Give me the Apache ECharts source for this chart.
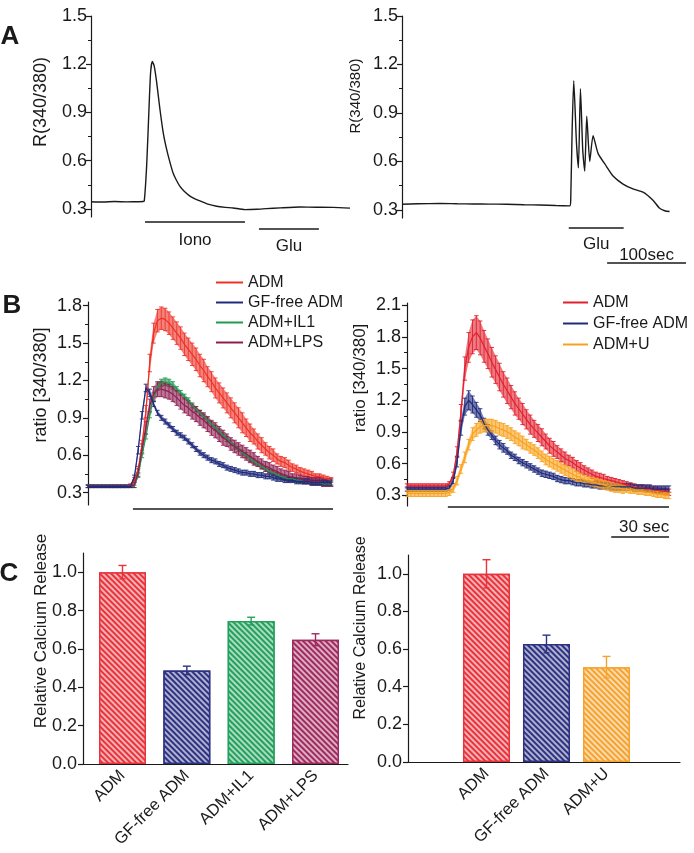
<!DOCTYPE html>
<html><head><meta charset="utf-8">
<script src="https://cdn.jsdelivr.net/npm/echarts@6/dist/echarts.min.js"></script>
<style>html,body{margin:0;padding:0;background:#fff}#c{width:694px;height:853px}</style>
</head><body><div id="c"></div>
<script>
// ---------------- DATA ----------------
// Panel A (single-cell traces), time in s
const tA1 = [0,15,30,45,60,66,67.5,70.5,73.4,75.5,77.6,80,83.1,87.3,91.6,95.8,100,104.2,108,112.7,118,125.3,131,138,148,159,170,180,195,210,222,240,264.6,285,306.7,328];
const vA1 = [0.345,0.343,0.346,0.344,0.345,0.346,0.35,0.57,0.92,1.15,1.217,1.19,1.09,0.92,0.77,0.67,0.59,0.52,0.48,0.44,0.41,0.38,0.365,0.35,0.33,0.317,0.31,0.306,0.296,0.298,0.302,0.307,0.312,0.311,0.31,0.305];
const tA2 = [0,20,48,70,90,110,132.5,155,174.7,195,212.7,213.9,215.6,217.7,221.1,223.6,226.2,229.1,231.6,234.2,238,242.2,248.5,259.1,267.5,280.2,292.8,305.5,318.1,326.6,333,339.2];
const vA2 = [0.335,0.338,0.34,0.338,0.337,0.336,0.335,0.332,0.33,0.327,0.325,0.37,0.78,1.10,0.72,0.56,1.05,0.67,0.54,0.88,0.60,0.76,0.65,0.57,0.51,0.46,0.43,0.41,0.36,0.31,0.295,0.29];
const stimA1 = [{label:'Iono', from:68.4, to:195}, {label:'Glu', from:212.7, to:288.6}];
const stimA2 = [{label:'Glu', from:211.4, to:281}];
const scaleA = {label:'100sec', len:100};
const ticksA = [0.3,0.6,0.9,1.2,1.5];
const minorA = [0.45,0.75,1.05,1.35];

// Panel B left (mean ratio + SEM), time in s
const tB1 = [0,2,4,6,8,10,12,14,16,18,20,22,24,26,28,30,32,34,36,38,40,42,44,46,48,50,52,54,56,58,60,62,64,66,68,70,72,74,76,78,80,82,84,86,88,90,92,94,96,98,100,102,104,106,108,110,112,114,116,118,120,122,124,126];
const adm1 = [0.35,0.35,0.35,0.35,0.35,0.35,0.35,0.35,0.35,0.35,0.35,
  0.36,0.40,0.48,0.68,0.95,1.34,1.58,1.68,1.70,1.69,1.66,1.62,1.58,1.54,1.49,1.45,1.41,1.37,1.32,1.28,1.23,1.19,1.14,1.10,1.06,1.02,0.98,0.94,0.90,0.86,0.82,0.78,0.75,0.71,0.68,0.65,0.62,0.60,0.57,0.55,0.54,0.52,0.50,0.49,0.47,0.46,0.45,0.44,0.43,0.43,0.42,0.41,0.40];
const adm1Err = [0.01,0.01,0.01,0.01,0.01,0.01,0.01,0.01,0.01,0.01,0.01,0.01,
  0.02,0.03,0.04,0.05,0.07,0.08,0.09,0.09,0.09,0.09,0.09,0.09,0.09,0.09,0.09,0.09,0.09,0.09,0.09,
  0.08,0.08,0.08,0.08,0.08,0.08,0.08,0.08,0.08,0.08,
  0.07,0.07,0.06,0.06,0.06,0.05,0.05,0.05,
  0.04,0.04,0.04,0.04,0.03,0.03,0.03,0.03,0.03,0.03,0.02,0.02,0.02,0.02,0.02];
const gf1 = [0.35,0.35,0.35,0.35,0.35,0.35,0.35,0.35,0.35,0.35,0.35,0.35,
  0.42,0.64,0.92,1.14,1.10,1.01,0.94,0.90,0.87,0.84,0.81,0.78,0.76,0.74,0.71,0.68,0.65,0.62,0.60,0.58,0.56,0.55,0.53,0.52,0.50,0.49,0.48,0.47,0.46,0.46,0.45,0.45,0.44,0.44,0.43,0.43,0.42,0.41,0.41,0.40,0.40,0.40,0.39,0.39,0.39,0.39,0.38,0.38,0.38,0.38,0.38,0.38];
const gf1Err = [0.01,0.01,0.01,0.01,0.01,0.01,0.01,0.01,0.01,0.01,0.01,0.01,
  0.02,0.03,0.03,0.03,0.03,
  0.02,0.02,0.02,0.02,0.02,0.02,0.02,0.02,0.02,0.02,0.02,0.02,0.02,0.02,0.02,0.02,0.02,0.02,0.02,0.02,0.02,0.02,0.02,0.02,0.02,0.02,0.02,0.02,0.02,0.02,0.02,0.02,0.02,0.02,0.02,0.02,0.02,0.02,0.02,0.02,0.02,0.02,0.02,0.02,0.02,0.02,0.02];
const il1 = [0.35,0.35,0.35,0.35,0.35,0.35,0.35,0.35,0.35,0.35,0.35,0.35,
  0.35,0.44,0.60,0.75,0.92,1.07,1.15,1.18,1.19,1.18,1.16,1.13,1.10,1.07,1.04,1.00,0.97,0.94,0.91,0.88,0.85,0.82,0.79,0.76,0.73,0.70,0.67,0.65,0.62,0.60,0.57,0.55,0.53,0.51,0.49,0.47,0.46,0.44,0.43,0.42,0.41,0.41,0.40,0.40,0.39,0.39,0.38,0.38,0.38,0.37,0.37,0.37];
const il1Err = [0.01,0.01,0.01,0.01,0.01,0.01,0.01,0.01,0.01,0.01,0.01,0.01,
  0.01,0.02,0.02,0.02,0.02,0.03,0.03,0.03,0.03,0.03,0.03,
  0.02,0.02,0.02,0.02,0.02,0.02,0.02,0.02,0.02,0.02,0.02,0.02,0.02,0.02,0.02,0.02,0.02,0.02,0.02,0.02,0.02,0.02,0.02,0.02,0.02,0.02,0.02,0.02,0.02,0.02,0.02,0.02,0.02,0.02,0.02,0.02,0.02,0.02,0.02,0.02,0.02];
const lps = [0.35,0.35,0.35,0.35,0.35,0.35,0.35,0.35,0.35,0.35,0.35,0.35,
  0.36,0.46,0.65,0.82,1.00,1.09,1.13,1.13,1.12,1.11,1.09,1.06,1.03,1.00,0.98,0.95,0.93,0.90,0.88,0.85,0.82,0.80,0.77,0.74,0.72,0.69,0.67,0.65,0.63,0.61,0.59,0.57,0.55,0.53,0.51,0.50,0.48,0.47,0.45,0.44,0.43,0.42,0.42,0.41,0.40,0.40,0.39,0.39,0.39,0.38,0.38,0.38];
const lpsErr = [0.01,0.01,0.01,0.01,0.01,0.01,0.01,0.01,0.01,0.01,0.01,0.01,
  0.02,0.03,0.04,0.05,0.05,
  0.06,0.06,0.06,0.06,0.06,0.06,0.06,0.06,0.06,0.06,0.06,0.06,0.06,0.06,0.06,0.06,0.06,0.06,0.06,
  0.05,0.05,0.05,0.05,0.05,0.05,0.05,0.05,
  0.04,0.04,0.04,0.04,0.04,0.04,0.04,0.04,0.04,
  0.03,0.03,0.03,0.03,0.03,0.03,0.03,0.03,0.03,0.03,0.03];
const stimB1 = [23.3, 127];
const ticksB1 = [0.3,0.6,0.9,1.2,1.5,1.8];
const minorB1 = [0.45,0.75,1.05,1.35,1.65];

// Panel B right
const tB2 = [0,2,4,6,8,10,12,14,16,18,20,22,24,26,28,30,32,34,36,38,40,42,44,46,48,50,52,54,56,58,60,62,64,66,68,70,72,74,76,78,80,82,84,86,88,90,92,94,96,98,100,102,104,106,108,110,112,114,116,118,120,122,124,126,128,130,132,134,136];
const adm2 = [0.39,0.39,0.39,0.39,0.39,0.39,0.39,0.39,0.39,0.39,0.39,
  0.41,0.49,0.71,1.08,1.50,1.70,1.80,1.84,1.79,1.71,1.64,1.56,1.49,1.42,1.35,1.29,1.23,1.17,1.12,1.07,1.02,0.97,0.93,0.89,0.85,0.81,0.77,0.74,0.71,0.68,0.65,0.63,0.61,0.58,0.56,0.54,0.52,0.50,0.48,0.47,0.46,0.45,0.44,0.43,0.42,0.41,0.40,0.39,0.38,0.37,0.37,0.36,0.36,0.35,0.35,0.34,0.34,0.33];
const adm2Err = [0.02,0.02,0.02,0.02,0.02,0.02,0.02,0.02,0.02,0.02,0.02,
  0.02,0.03,0.05,0.08,0.11,0.14,0.16,0.16,0.16,0.15,
  0.14,0.14,0.13,0.13,0.12,0.12,0.11,0.11,
  0.10,0.10,0.09,0.09,0.08,0.08,0.08,0.07,0.07,0.07,0.06,0.06,
  0.06,0.05,0.05,0.05,0.05,0.04,0.04,0.04,0.04,0.04,0.04,0.03,0.03,0.03,0.03,0.03,0.03,0.03,0.03,0.03,0.03,0.03,0.03,0.03,0.03,0.03,0.03,0.03];
const gf2 = [0.36,0.36,0.36,0.36,0.36,0.36,0.36,0.36,0.36,0.36,0.36,
  0.37,0.44,0.62,0.94,1.14,1.20,1.16,1.11,1.06,0.98,0.92,0.87,0.82,0.78,0.75,0.72,0.68,0.66,0.63,0.61,0.59,0.57,0.55,0.53,0.51,0.50,0.49,0.48,0.46,0.45,0.44,0.44,0.43,0.42,0.42,0.41,0.41,0.40,0.40,0.39,0.39,0.39,0.38,0.38,0.38,0.38,0.38,0.38,0.37,0.37,0.37,0.37,0.37,0.36,0.36,0.36,0.36,0.36];
const gf2Err = [0.02,0.02,0.02,0.02,0.02,0.02,0.02,0.02,0.02,0.02,0.02,
  0.02,0.03,0.05,0.07,0.08,0.09,0.08,0.07,0.06,0.05,
  0.05,0.04,0.04,0.04,0.04,0.03,0.03,0.03,0.03,0.03,0.03,0.03,0.03,0.03,0.03,0.03,0.03,0.03,0.03,0.03,0.03,0.03,0.03,0.03,0.03,0.03,0.03,0.03,0.03,0.03,0.03,0.03,0.03,0.03,0.03,0.03,0.03,0.03,0.03,0.03,0.03,0.03,0.03,0.03,0.03,0.03,0.03,0.03];
const u2 = [0.32,0.32,0.32,0.32,0.32,0.32,0.32,0.32,0.32,0.32,0.32,
  0.33,0.36,0.44,0.55,0.66,0.78,0.88,0.92,0.95,0.96,0.96,0.96,0.95,0.93,0.92,0.90,0.88,0.85,0.83,0.80,0.78,0.75,0.73,0.70,0.67,0.64,0.62,0.60,0.58,0.56,0.54,0.52,0.50,0.48,0.47,0.45,0.44,0.43,0.42,0.41,0.40,0.39,0.38,0.37,0.37,0.36,0.36,0.35,0.35,0.34,0.34,0.33,0.33,0.32,0.31,0.31,0.30,0.30];
const u2Err = [0.03,0.03,0.03,0.03,0.03,0.03,0.03,0.03,0.03,0.03,0.03,
  0.03,0.03,0.04,0.04,0.05,0.05,0.06,0.06,0.06,0.06,
  0.06,0.06,0.06,0.06,0.06,0.06,0.06,0.06,0.06,0.06,
  0.05,0.05,0.05,0.05,0.05,0.05,0.05,0.05,0.05,0.05,0.05,0.05,0.05,0.05,
  0.04,0.04,0.04,0.04,0.04,0.04,0.04,0.04,0.04,0.04,0.04,0.04,
  0.03,0.03,0.03,0.03,0.03,0.03,0.03,0.03,0.03,0.03,0.03,0.03];
const stimB2 = [21.2, 136];
const scaleB = {label:'30 sec', len:30};
const ticksB2 = [0.3,0.6,0.9,1.2,1.5,1.8,2.1];
const minorB2 = [0.45,0.75,1.05,1.35,1.65,1.95];

// Panel C
const catsC1 = ['ADM','GF-free ADM','ADM+IL1','ADM+LPS'];
const valsC1 = [1.0, 0.488, 0.745, 0.648];
const errC1 = [0.035, 0.022, 0.02, 0.031];
const catsC2 = ['ADM','GF-free ADM','ADM+U'];
const valsC2 = [1.0, 0.627, 0.504];
const errC2 = [0.075, 0.047, 0.057];
const ticksC = [0,0.2,0.4,0.6,0.8,1.0];
const minorC = [0.1,0.3,0.5,0.7,0.9];

// ---------------- STYLE ----------------
const FONT = '"Liberation Sans", Arial, sans-serif';
const INK = '#1a1a1a';
const COL = {adm1:'#ee3126', adm2:'#e11f2d', gf:'#1f2a7c', il1:'#1f9b4f', lps:'#8e1e50', u:'#f8a21c'};
const BARCOL1 = ['#e8333c','#2d3282','#23a05c','#a02a5f'];
const BARCOL2 = ['#e8333c','#2d3282','#f6a22e'];

function yAx(gi, min, max, ticks, margin) {
  return {type:'value', gridIndex:gi, min:min, max:max, position:'left',
    axisLine:{show:true, onZero:false, lineStyle:{color:INK, width:1.2}},
    axisTick:{show:true, length:5, customValues:ticks, lineStyle:{color:INK, width:1.2}},
    axisLabel:{show:true, customValues:ticks, margin:margin, fontSize:18, fontFamily:FONT, color:INK,
      formatter:function(v){return Number(v).toFixed(1);}},
    splitLine:{show:false}};
}
function yMinor(gi, min, max, minors) {
  return {type:'value', gridIndex:gi, min:min, max:max, position:'left',
    axisLine:{show:false},
    axisTick:{show:true, length:3, customValues:minors, lineStyle:{color:INK, width:1}},
    axisLabel:{show:false}, splitLine:{show:false}};
}
function xHidden(gi, min, max) { return {type:'value', gridIndex:gi, min:min, max:max, show:false}; }
function xCat(gi, min, max, cats) {
  return {type:'value', gridIndex:gi, min:min, max:max,
    axisLine:{show:true, onZero:false, lineStyle:{color:INK, width:1.2}},
    axisTick:{show:false}, splitLine:{show:false},
    axisLabel:{show:true, customValues:cats.map(function(c,i){return i;}), rotate:45, margin:9,
      fontSize:16.5, fontFamily:FONT, color:INK, formatter:function(v){return cats[Math.round(v)];}}};
}

function meanSeries(gi, name, t, m, e, color) {
  return [
    {type:'custom', xAxisIndex:gi, yAxisIndex:gi, silent:true,
      renderItem:function(params, api){
        var i = params.dataIndex;
        var top = api.coord([t[i], m[i] + e[i]]), bot = api.coord([t[i], m[i] - e[i]]);
        var st = {stroke: color, lineWidth: 0.9};
        var ch = [];
        if (i < t.length - 1) {
          var top2 = api.coord([t[i+1], m[i+1] + e[i+1]]), bot2 = api.coord([t[i+1], m[i+1] - e[i+1]]);
          ch.push({type:'polygon', shape:{points:[top, top2, bot2, bot]}, style:{fill:color, opacity:0.6}});
        }
        ch.push({type:'line', shape:{x1:top[0], y1:top[1], x2:bot[0], y2:bot[1]}, style:st});
        ch.push({type:'line', shape:{x1:top[0]-2.2, y1:top[1], x2:top[0]+2.2, y2:top[1]}, style:st});
        ch.push({type:'line', shape:{x1:bot[0]-2.2, y1:bot[1], x2:bot[0]+2.2, y2:bot[1]}, style:st});
        return {type:'group', children:ch};
      },
      data:t.map(function(x,i){return [x, m[i], e[i]];}), encode:{x:0, y:1}},
    {type:'line', name:name, xAxisIndex:gi, yAxisIndex:gi, showSymbol:false, symbol:'none',
      data:t.map(function(x,i){return [x, m[i]];}), lineStyle:{color:color, width:1.2}, itemStyle:{color:color}}
  ];
}
function barSeries(gi, vals, errs, cols) {
  return [
    {type:'bar', xAxisIndex:gi, yAxisIndex:gi, barWidth:47,
      data:vals.map(function(v,i){return {value:[i, v], itemStyle:{color:cols[i], borderColor:cols[i], borderWidth:1.5,
        decal:{symbol:'rect', symbolSize:1, color:'rgba(255,255,255,0.62)', dashArrayX:[1,0], dashArrayY:[1.3,1.7], rotation:Math.PI/4}}};})},
    {type:'custom', xAxisIndex:gi, yAxisIndex:gi, z:5,
      renderItem:function(params, api){
        var x = api.value(0), m = api.value(1), e = api.value(2), c = cols[params.dataIndex];
        var top = api.coord([x, m + e]), bot = api.coord([x, m - e]);
        var st = {stroke:c, lineWidth:1.4};
        return {type:'group', children:[
          {type:'line', shape:{x1:top[0], y1:top[1], x2:bot[0], y2:bot[1]}, style:st},
          {type:'line', shape:{x1:top[0]-4, y1:top[1], x2:top[0]+4, y2:top[1]}, style:st},
          {type:'line', shape:{x1:bot[0]-3, y1:bot[1], x2:bot[0]+3, y2:bot[1]}, style:st}
        ]};
      },
      data:vals.map(function(v,i){return [i, v, errs[i]];}), encode:{x:0, y:1}}
  ];
}

const chart = echarts.init(document.getElementById('c'), null, {renderer:'canvas'});

const series = [].concat(
  [{type:'line', xAxisIndex:0, yAxisIndex:0, showSymbol:false, symbol:'none', smooth:0.2,
     data:tA1.map(function(x,i){return [x, vA1[i]];}), lineStyle:{color:INK, width:1.4}}],
  [{type:'line', xAxisIndex:1, yAxisIndex:1, showSymbol:false, symbol:'none', smooth:0.2,
     data:tA2.map(function(x,i){return [x, vA2[i]];}), lineStyle:{color:INK, width:1.4}}],
  meanSeries(2, 'ADM', tB1, adm1, adm1Err, COL.adm1),
  meanSeries(2, 'ADM+IL1', tB1, il1, il1Err, COL.il1),
  meanSeries(2, 'ADM+LPS', tB1, lps, lpsErr, COL.lps),
  meanSeries(2, 'GF-free ADM', tB1, gf1, gf1Err, COL.gf),
  meanSeries(3, 'ADM ', tB2, adm2, adm2Err, COL.adm2),
  meanSeries(3, 'GF-free ADM ', tB2, gf2, gf2Err, COL.gf),
  meanSeries(3, 'ADM+U', tB2, u2, u2Err, COL.u),
  barSeries(4, valsC1, errC1, BARCOL1),
  barSeries(5, valsC2, errC2, BARCOL2)
);

const legendText = {fontSize:16, fontFamily:FONT, color:INK, lineHeight:17};
const option = {
  animation:false,
  backgroundColor:'#ffffff',
  textStyle:{fontFamily:FONT},
  grid:[
    {left:91, top:16, width:259, height:201},
    {left:402, top:16, width:284, height:202},
    {left:88, top:302, width:245, height:203},
    {left:407, top:303, width:262, height:203},
    {left:83, top:553, width:265, height:211},
    {left:408, top:555, width:272, height:207}
  ],
  xAxis:[
    xHidden(0, 0, 328), xHidden(1, 0, 360), xHidden(2, 0, 127), xHidden(3, 0, 136),
    xCat(4, -0.614, 3.505, catsC1), xCat(5, -1.308, 3.225, catsC2)
  ],
  yAxis:[
    yAx(0, 0.25, 1.5, ticksA, 4), yAx(1, 0.25, 1.5, ticksA, 4),
    yAx(2, 0.2, 1.83, ticksB1, 6), yAx(3, 0.2, 2.12, ticksB2, 6),
    yAx(4, 0, 1.1, ticksC, 6), yAx(5, 0, 1.1, ticksC, 6),
    yMinor(0, 0.25, 1.5, minorA), yMinor(1, 0.25, 1.5, minorA),
    yMinor(2, 0.2, 1.83, minorB1), yMinor(3, 0.2, 2.12, minorB2),
    yMinor(4, 0, 1.1, minorC), yMinor(5, 0, 1.1, minorC)
  ],
  legend:[
    {data:['ADM','GF-free ADM','ADM+IL1','ADM+LPS'], orient:'vertical', left:216, top:274, padding:0,
      itemWidth:27, itemHeight:2, itemGap:3, icon:'rect', selectedMode:false, textStyle:legendText},
    {data:[{name:'ADM ', icon:'rect'},{name:'GF-free ADM ', icon:'rect'},{name:'ADM+U', icon:'rect'}], orient:'vertical', left:563, top:294, padding:0,
      itemWidth:25, itemHeight:2, itemGap:4, icon:'rect', selectedMode:false, textStyle:legendText}
  ],
  series:series
};
chart.setOption(option);

// ---------------- ANNOTATIONS ----------------
function px(gi, x) { return chart.convertToPixel({gridIndex:gi}, [x, 0.5])[0]; }
const g = [];
function hline(x1, x2, y) { g.push({type:'line', shape:{x1:x1, y1:y, x2:x2, y2:y}, style:{stroke:INK, lineWidth:1.5}}); }
function txt(s, x, y, size, bold, rot) {
  g.push({type:'text', x:x, y:y, rotation:rot || 0,
    style:{text:s, font:(bold ? 'bold ' : '') + size + 'px ' + FONT, fill:INK, align:'center', verticalAlign:'middle'}});
}
// panel letters
txt('A', 10, 37, 26, true); txt('B', 12, 306, 26, true); txt('C', 9, 574, 26, true);
// axis titles
txt('R(340/380)', 41, 102, 18, false, Math.PI/2);
txt('R(340/380)', 356, 96, 15, false, Math.PI/2);
txt('ratio [340/380]', 41, 385, 18, false, Math.PI/2);
txt('ratio [340/380]', 360, 378, 17, false, Math.PI/2);
txt('Relative Calcium Release', 41, 631, 17, false, Math.PI/2);
txt('Relative Calcium Release', 361, 628, 16, false, Math.PI/2);
// A stimulus bars
const layA1 = [{bar:222, text:240}, {bar:229, text:246}];
stimA1.forEach(function(s, i){
  var a = px(0, s.from), b = px(0, s.to);
  hline(a, b, layA1[i].bar); txt(s.label, (a + b) / 2, layA1[i].text, 17);
});
const layA2 = [{bar:228, text:244}];
stimA2.forEach(function(s, i){
  var a = px(1, s.from), b = px(1, s.to);
  hline(a, b, layA2[i].bar); txt(s.label, (a + b) / 2, layA2[i].text, 17);
});
(function(){
  var b = px(1, 360), a = px(1, 360 - scaleA.len);
  hline(a, b, 263); txt(scaleA.label, (a + b) / 2, 255, 17);
})();
// B stimulus bars + scale
hline(px(2, stimB1[0]), px(2, stimB1[1]), 509);
hline(px(3, stimB2[0]), px(3, stimB2[1]), 507);
(function(){
  var b = px(3, 136), a = px(3, 136 - scaleB.len);
  hline(a, b, 537); txt(scaleB.label, (a + b) / 2 + 4, 527, 17);
})();
chart.setOption({graphic:{elements:g}});
</script></body></html>
